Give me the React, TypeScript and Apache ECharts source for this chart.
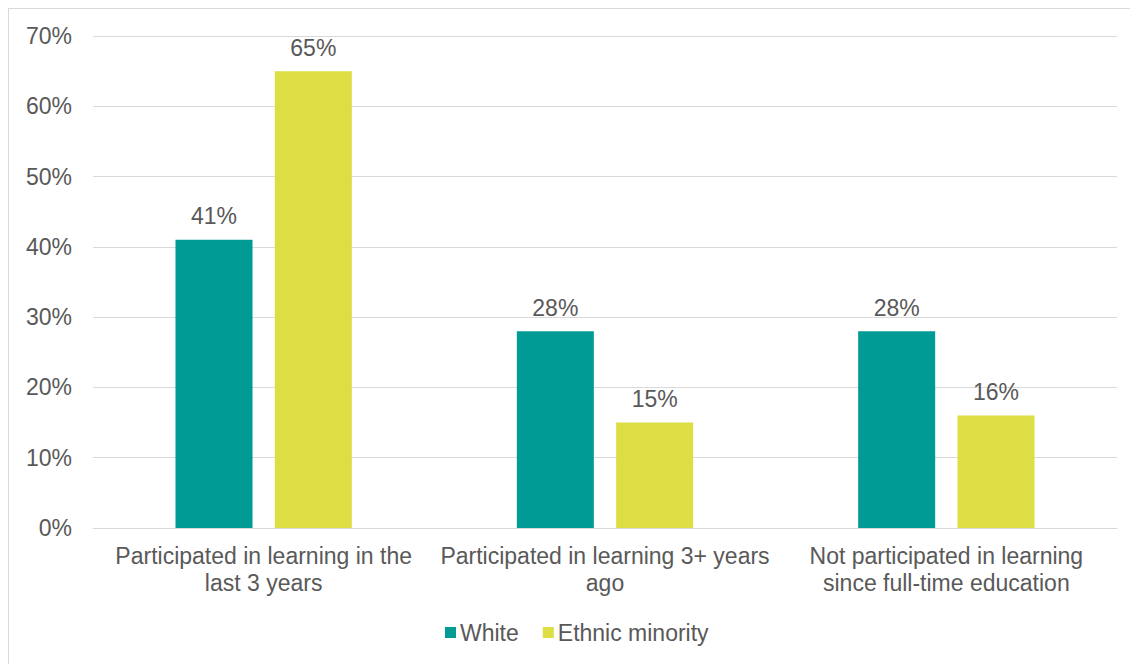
import React, { useEffect, useRef } from "react";
import * as echarts from "echarts";

const categories = [
  "Participated in learning in the\nlast 3 years",
  "Participated in learning 3+ years\nago",
  "Not participated in learning\nsince full-time education",
];
const whiteValues = [41, 28, 28];
const minorityValues = [65, 15, 16];
const seriesNames = ["White", "Ethnic minority"];
const yTicks = { min: 0, max: 70, interval: 10 };

const TEXT = "#595959";
const FONT = "'Liberation Sans', Arial, sans-serif";
const FS = 23;

export default function App() {
  const ref = useRef<HTMLDivElement>(null);
  useEffect(() => {
    if (!ref.current) return;
    const chart = echarts.init(ref.current, undefined, { renderer: "svg" });
    const label = {
      show: true,
      position: "top" as const,
      distance: 12,
      color: TEXT,
      fontSize: FS,
      fontFamily: FONT,
      formatter: (p: any) => `${p.value}%`,
    };
    chart.setOption({
      animation: false,
      textStyle: { fontFamily: FONT },
      grid: { left: 84, right: 21, top: 27, bottom: 136, containLabel: false },
      legend: {
        left: 431,
        top: 607,
        itemWidth: 11,
        itemHeight: 11,
        itemGap: 24,
        icon: "rect",
        textStyle: { color: TEXT, fontSize: FS, fontFamily: FONT, padding: [0, 0, 0, -1] },
        data: seriesNames,
      },
      xAxis: {
        type: "category",
        data: categories,
        axisLine: { lineStyle: { color: "#d9d9d9", width: 1 } },
        axisTick: { show: false },
        axisLabel: {
          color: TEXT,
          fontSize: FS,
          fontFamily: FONT,
          lineHeight: 27,
          margin: 14,
          interval: 0,
        },
      },
      yAxis: {
        type: "value",
        min: yTicks.min,
        max: yTicks.max,
        interval: yTicks.interval,
        axisLine: { show: false },
        axisTick: { show: false },
        splitLine: { lineStyle: { color: "#d9d9d9", width: 1 } },
        axisLabel: {
          color: TEXT,
          fontSize: FS,
          fontFamily: FONT,
          margin: 21,
          formatter: (v: number) => `${v}%`,
        },
      },
      series: [
        {
          name: seriesNames[0],
          type: "bar",
          data: whiteValues,
          barWidth: 77,
          barGap: "29%",
          itemStyle: { color: "#009B94" },
          label,
        },
        {
          name: seriesNames[1],
          type: "bar",
          data: minorityValues,
          barWidth: 77,
          barGap: "29%",
          itemStyle: { color: "#DDDD44" },
          label,
        },
      ],
    });
    return () => chart.dispose();
  }, []);
  return (
    <div
      style={{
        width: 1140,
        height: 670,
        borderLeft: "1px solid #d9d9d9",
        borderTop: "1px solid #d9d9d9",
        overflow: "hidden",
      }}
    >
      <div ref={ref} style={{ width: 1129, height: 655 }} />
    </div>
  );
}
